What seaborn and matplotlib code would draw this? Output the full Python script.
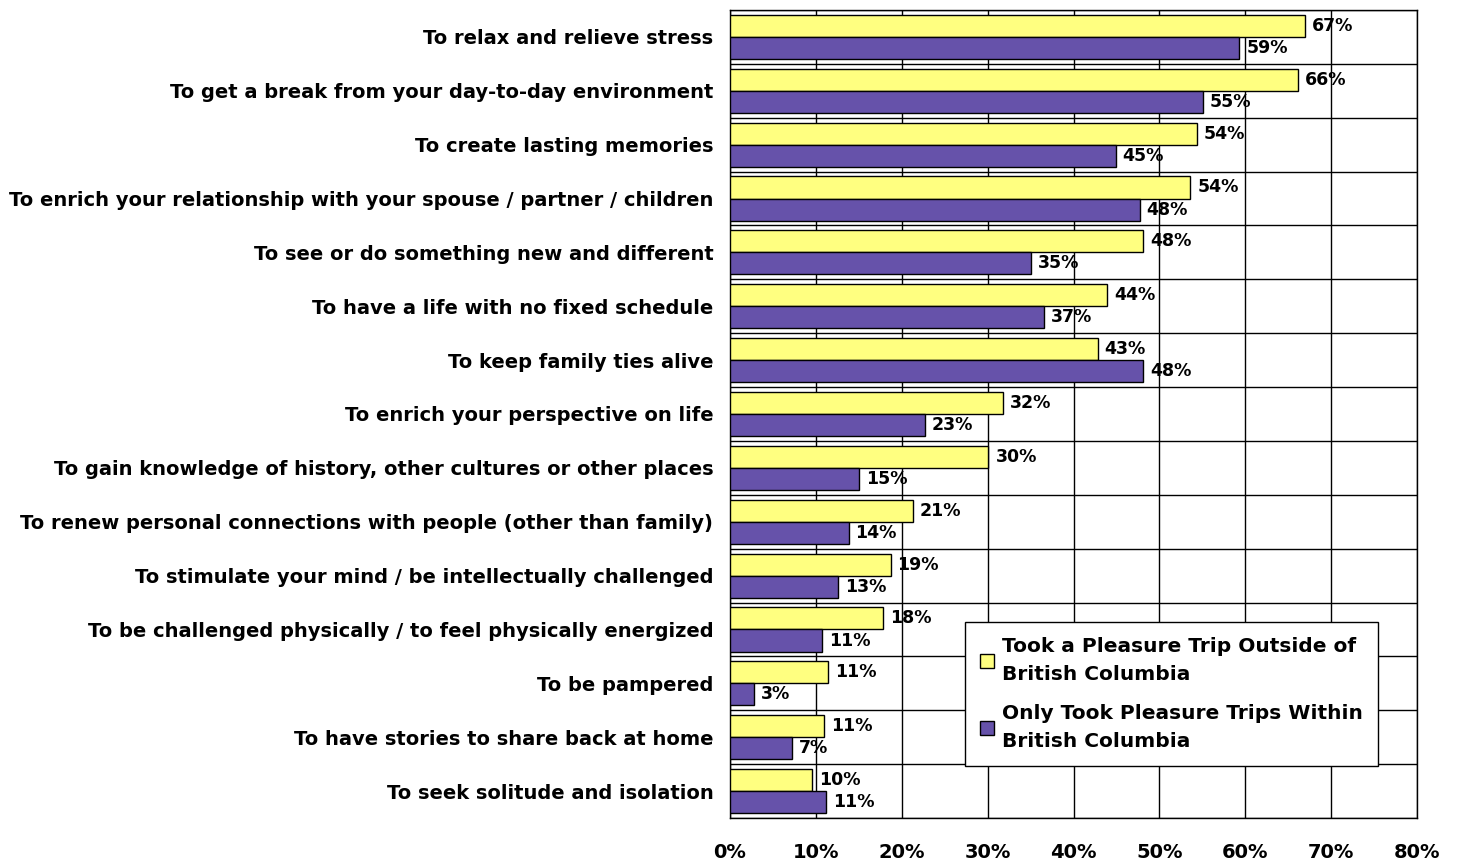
import numpy as np
import pandas as pd
import matplotlib
matplotlib.use("Agg")
import matplotlib.pyplot as plt
import seaborn as sns

# Dados
motivos = [
    "To relax and relieve stress",
    "To get a break from your day-to-day environment",
    "To create lasting memories",
    "To enrich your relationship with your spouse / partner / children",
    "To see or do something new and different",
    "To have a life with no fixed schedule",
    "To keep family ties alive",
    "To enrich your perspective on life",
    "To gain knowledge of history, other cultures or other places",
    "To renew personal connections with people (other than family)",
    "To stimulate your mind / be intellectually challenged",
    "To be challenged physically / to feel physically energized",
    "To be pampered",
    "To have stories to share back at home",
    "To seek solitude and isolation",
]
fora_bc = [66.9, 66.1, 54.4, 53.6, 48.1, 43.9, 42.8, 31.8, 30.1, 21.3, 18.7, 17.8, 11.4, 11.0, 9.6]
dentro_bc = [59.3, 55.1, 44.9, 47.7, 35.0, 36.6, 48.1, 22.7, 15.0, 13.8, 12.6, 10.7, 2.8, 7.2, 11.2]
grupos = ["Took a Pleasure Trip Outside of\nBritish Columbia",
          "Only Took Pleasure Trips Within\nBritish Columbia"]
cores = ["#FFFF80", "#6652AA"]
xticks = [0, 10, 20, 30, 40, 50, 60, 70, 80]

df = pd.DataFrame({
    "motivo": motivos * 2,
    "pct": fora_bc + dentro_bc,
    "grupo": [grupos[0]] * len(motivos) + [grupos[1]] * len(motivos),
})

sns.set_style("white")
plt.rcParams["font.family"] = ["DejaVu Sans"]
plt.rcParams["font.weight"] = "bold"
plt.rcParams["text.color"] = "black"
plt.rcParams["xtick.color"] = "black"
plt.rcParams["ytick.color"] = "black"

fig = plt.figure(figsize=(14.59, 8.65), dpi=100)
ax = fig.add_axes([730 / 1459, 1 - 818 / 865, 687 / 1459, 808 / 865])

sns.barplot(data=df, y="motivo", x="pct", hue="grupo", palette=cores,
            saturation=1, edgecolor="black", linewidth=1, width=0.82,
            orient="h", ax=ax, zorder=3)

for cont in ax.containers:
    labs = [f"{round(b.get_width())}%" for b in cont]
    ax.bar_label(cont, labels=labs, padding=5, fontsize=12.5, fontweight="bold")

ax.set_xlim(0, 80)
ax.set_ylim(len(motivos) - 0.5, -0.5)
ax.set_xticks(xticks)
ax.set_xticklabels([f"{t}%" for t in xticks], fontsize=14, fontweight="bold")
ax.set_yticks(range(len(motivos)))
ax.set_yticklabels(motivos, fontsize=14, fontweight="bold", va="center_baseline")
ax.set_yticks(np.arange(-0.5, len(motivos), 1), minor=True)
ax.tick_params(axis="y", which="major", length=0, pad=12)
ax.tick_params(axis="y", which="minor", length=4, width=1, color="black", direction="out")
ax.tick_params(axis="x", which="major", length=4, width=1, color="black", direction="out", pad=14)
ax.set_xlabel("")
ax.set_ylabel("")

ax.grid(axis="x", which="major", color="black", linewidth=1, zorder=0)
ax.grid(axis="y", which="minor", color="black", linewidth=1, zorder=0)
ax.set_axisbelow(True)
for s in ax.spines.values():
    s.set_color("black")
    s.set_linewidth(1)

leg = ax.legend(loc="upper left", bbox_to_anchor=(0.342, 0.2426), fontsize=14.5,
                frameon=True, fancybox=False, framealpha=1, edgecolor="black",
                handlelength=0.7, handleheight=0.7, handletextpad=0.4,
                labelspacing=1.0, borderpad=0.75, borderaxespad=0)
leg.get_frame().set_linewidth(1)
for t in leg.get_texts():
    t.set_fontweight("bold")
    t.set_linespacing(1.6)

fig.savefig("out.png", dpi=100)
